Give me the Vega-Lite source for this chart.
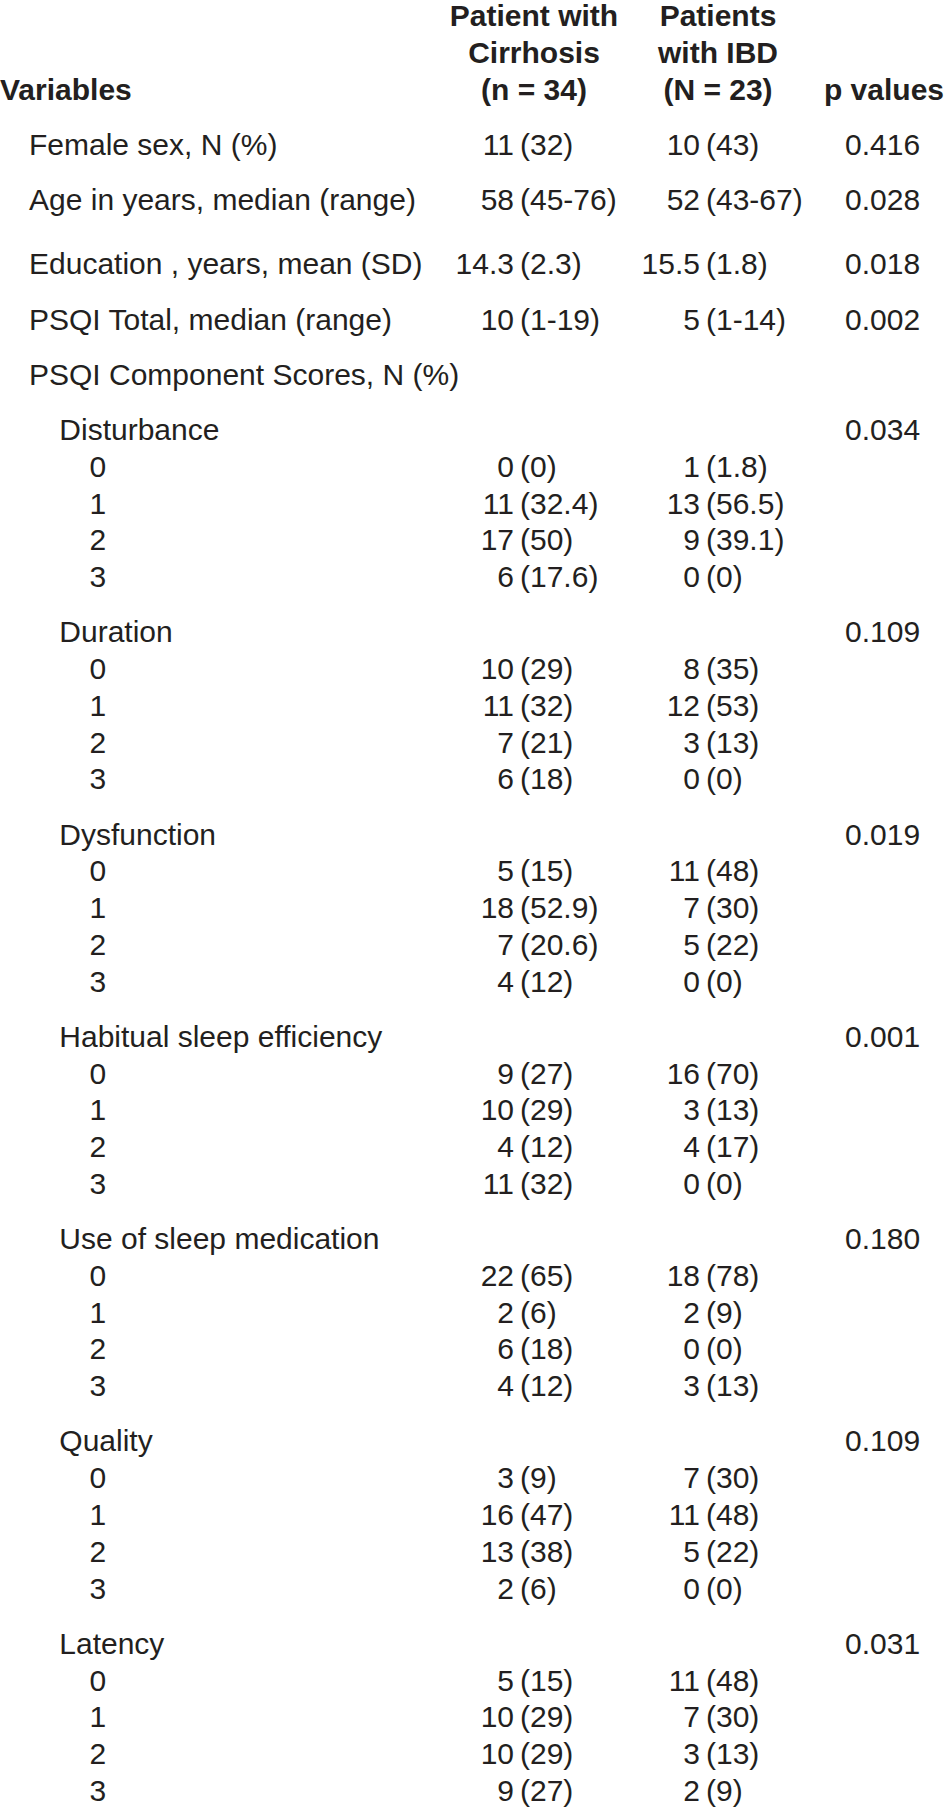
{
  "$schema": "https://vega.github.io/schema/vega-lite/v6.json",
  "width": 945,
  "height": 1814,
  "autosize": {"type": "fit", "contains": "padding"},
  "padding": 0,
  "background": "white",
  "config": {"view": {"stroke": null}, "text": {"font": "Liberation Sans", "fontSize": 30, "color": "#231f20", "baseline": "alphabetic"}},
  "datasets": {
    "head": [
      {"line": 0, "col": "cir", "text": "Patient with"},
      {"line": 4, "col": "cir", "text": "Cirrhosis"},
      {"line": 8, "col": "cir", "text": "(n = 34)"},
      {"line": 0, "col": "ibd", "text": "Patients"},
      {"line": 4, "col": "ibd", "text": "with IBD"},
      {"line": 8, "col": "ibd", "text": "(N = 23)"},
      {"line": 8, "col": "p", "text": "p values"},
      {"line": 8, "col": "var", "text": "Variables"}
    ],
    "rows": [
      {"line": 14, "level": 0, "label": "Female sex, N (%)", "cir_n": "11", "cir_p": "(32)", "ibd_n": "10", "ibd_p": "(43)", "p": "0.416"},
      {"line": 20, "level": 0, "label": "Age in years, median (range)", "cir_n": "58", "cir_p": "(45-76)", "ibd_n": "52", "ibd_p": "(43-67)", "p": "0.028"},
      {"line": 27, "level": 0, "label": "Education , years, mean (SD)", "cir_n": "14.3", "cir_p": "(2.3)", "ibd_n": "15.5", "ibd_p": "(1.8)", "p": "0.018"},
      {"line": 33, "level": 0, "label": "PSQI Total, median (range)", "cir_n": "10", "cir_p": "(1-19)", "ibd_n": "5", "ibd_p": "(1-14)", "p": "0.002"},
      {"line": 39, "level": 0, "label": "PSQI Component Scores, N (%)", "cir_n": "", "cir_p": "", "ibd_n": "", "ibd_p": "", "p": ""},
      {"line": 45, "level": 1, "label": "Disturbance", "cir_n": "", "cir_p": "", "ibd_n": "", "ibd_p": "", "p": "0.034"},
      {"line": 49, "level": 2, "label": "0", "cir_n": "0", "cir_p": "(0)", "ibd_n": "1", "ibd_p": "(1.8)", "p": ""},
      {"line": 53, "level": 2, "label": "1", "cir_n": "11", "cir_p": "(32.4)", "ibd_n": "13", "ibd_p": "(56.5)", "p": ""},
      {"line": 57, "level": 2, "label": "2", "cir_n": "17", "cir_p": "(50)", "ibd_n": "9", "ibd_p": "(39.1)", "p": ""},
      {"line": 61, "level": 2, "label": "3", "cir_n": "6", "cir_p": "(17.6)", "ibd_n": "0", "ibd_p": "(0)", "p": ""},
      {"line": 67, "level": 1, "label": "Duration", "cir_n": "", "cir_p": "", "ibd_n": "", "ibd_p": "", "p": "0.109"},
      {"line": 71, "level": 2, "label": "0", "cir_n": "10", "cir_p": "(29)", "ibd_n": "8", "ibd_p": "(35)", "p": ""},
      {"line": 75, "level": 2, "label": "1", "cir_n": "11", "cir_p": "(32)", "ibd_n": "12", "ibd_p": "(53)", "p": ""},
      {"line": 79, "level": 2, "label": "2", "cir_n": "7", "cir_p": "(21)", "ibd_n": "3", "ibd_p": "(13)", "p": ""},
      {"line": 83, "level": 2, "label": "3", "cir_n": "6", "cir_p": "(18)", "ibd_n": "0", "ibd_p": "(0)", "p": ""},
      {"line": 89, "level": 1, "label": "Dysfunction", "cir_n": "", "cir_p": "", "ibd_n": "", "ibd_p": "", "p": "0.019"},
      {"line": 93, "level": 2, "label": "0", "cir_n": "5", "cir_p": "(15)", "ibd_n": "11", "ibd_p": "(48)", "p": ""},
      {"line": 97, "level": 2, "label": "1", "cir_n": "18", "cir_p": "(52.9)", "ibd_n": "7", "ibd_p": "(30)", "p": ""},
      {"line": 101, "level": 2, "label": "2", "cir_n": "7", "cir_p": "(20.6)", "ibd_n": "5", "ibd_p": "(22)", "p": ""},
      {"line": 105, "level": 2, "label": "3", "cir_n": "4", "cir_p": "(12)", "ibd_n": "0", "ibd_p": "(0)", "p": ""},
      {"line": 111, "level": 1, "label": "Habitual sleep efficiency", "cir_n": "", "cir_p": "", "ibd_n": "", "ibd_p": "", "p": "0.001"},
      {"line": 115, "level": 2, "label": "0", "cir_n": "9", "cir_p": "(27)", "ibd_n": "16", "ibd_p": "(70)", "p": ""},
      {"line": 119, "level": 2, "label": "1", "cir_n": "10", "cir_p": "(29)", "ibd_n": "3", "ibd_p": "(13)", "p": ""},
      {"line": 123, "level": 2, "label": "2", "cir_n": "4", "cir_p": "(12)", "ibd_n": "4", "ibd_p": "(17)", "p": ""},
      {"line": 127, "level": 2, "label": "3", "cir_n": "11", "cir_p": "(32)", "ibd_n": "0", "ibd_p": "(0)", "p": ""},
      {"line": 133, "level": 1, "label": "Use of sleep medication", "cir_n": "", "cir_p": "", "ibd_n": "", "ibd_p": "", "p": "0.180"},
      {"line": 137, "level": 2, "label": "0", "cir_n": "22", "cir_p": "(65)", "ibd_n": "18", "ibd_p": "(78)", "p": ""},
      {"line": 141, "level": 2, "label": "1", "cir_n": "2", "cir_p": "(6)", "ibd_n": "2", "ibd_p": "(9)", "p": ""},
      {"line": 145, "level": 2, "label": "2", "cir_n": "6", "cir_p": "(18)", "ibd_n": "0", "ibd_p": "(0)", "p": ""},
      {"line": 149, "level": 2, "label": "3", "cir_n": "4", "cir_p": "(12)", "ibd_n": "3", "ibd_p": "(13)", "p": ""},
      {"line": 155, "level": 1, "label": "Quality", "cir_n": "", "cir_p": "", "ibd_n": "", "ibd_p": "", "p": "0.109"},
      {"line": 159, "level": 2, "label": "0", "cir_n": "3", "cir_p": "(9)", "ibd_n": "7", "ibd_p": "(30)", "p": ""},
      {"line": 163, "level": 2, "label": "1", "cir_n": "16", "cir_p": "(47)", "ibd_n": "11", "ibd_p": "(48)", "p": ""},
      {"line": 167, "level": 2, "label": "2", "cir_n": "13", "cir_p": "(38)", "ibd_n": "5", "ibd_p": "(22)", "p": ""},
      {"line": 171, "level": 2, "label": "3", "cir_n": "2", "cir_p": "(6)", "ibd_n": "0", "ibd_p": "(0)", "p": ""},
      {"line": 177, "level": 1, "label": "Latency", "cir_n": "", "cir_p": "", "ibd_n": "", "ibd_p": "", "p": "0.031"},
      {"line": 181, "level": 2, "label": "0", "cir_n": "5", "cir_p": "(15)", "ibd_n": "11", "ibd_p": "(48)", "p": ""},
      {"line": 185, "level": 2, "label": "1", "cir_n": "10", "cir_p": "(29)", "ibd_n": "7", "ibd_p": "(30)", "p": ""},
      {"line": 189, "level": 2, "label": "2", "cir_n": "10", "cir_p": "(29)", "ibd_n": "3", "ibd_p": "(13)", "p": ""},
      {"line": 193, "level": 2, "label": "3", "cir_n": "9", "cir_p": "(27)", "ibd_n": "2", "ibd_p": "(9)", "p": ""}
    ]
  },
  "encoding": {
    "y": {"field": "line", "type": "quantitative", "axis": null, "scale": {"domain": [-2.85, 194.43], "reverse": true, "nice": false, "zero": false}}
  },
  "layer": [
    {
      "data": {"name": "head"},
      "transform": [{"filter": "datum.col === 'cir'"}],
      "mark": {"type": "text", "fontWeight": "bold", "align": "center"},
      "encoding": {"x": {"value": 534}, "text": {"field": "text", "type": "nominal"}}
    },
    {
      "data": {"name": "head"},
      "transform": [{"filter": "datum.col === 'ibd'"}],
      "mark": {"type": "text", "fontWeight": "bold", "align": "center"},
      "encoding": {"x": {"value": 718}, "text": {"field": "text", "type": "nominal"}}
    },
    {
      "data": {"name": "head"},
      "transform": [{"filter": "datum.col === 'p'"}],
      "mark": {"type": "text", "fontWeight": "bold", "align": "right"},
      "encoding": {"x": {"value": 944}, "text": {"field": "text", "type": "nominal"}}
    },
    {
      "data": {"name": "head"},
      "transform": [{"filter": "datum.col === 'var'"}],
      "mark": {"type": "text", "fontWeight": "bold", "align": "left"},
      "encoding": {"x": {"value": 0}, "text": {"field": "text", "type": "nominal"}}
    },
    {
      "data": {"name": "rows"},
      "mark": {"type": "text", "align": "left"},
      "encoding": {
        "x": {"field": "level", "type": "quantitative", "axis": null, "scale": {"domain": [0, 2], "range": [29, 89.6], "nice": false, "zero": false}},
        "text": {"field": "label", "type": "nominal"}
      }
    },
    {
      "data": {"name": "rows"},
      "mark": {"type": "text", "align": "right"},
      "encoding": {"x": {"value": 514}, "text": {"field": "cir_n", "type": "nominal"}}
    },
    {
      "data": {"name": "rows"},
      "mark": {"type": "text", "align": "left"},
      "encoding": {"x": {"value": 520}, "text": {"field": "cir_p", "type": "nominal"}}
    },
    {
      "data": {"name": "rows"},
      "mark": {"type": "text", "align": "right"},
      "encoding": {"x": {"value": 700}, "text": {"field": "ibd_n", "type": "nominal"}}
    },
    {
      "data": {"name": "rows"},
      "mark": {"type": "text", "align": "left"},
      "encoding": {"x": {"value": 706}, "text": {"field": "ibd_p", "type": "nominal"}}
    },
    {
      "data": {"name": "rows"},
      "mark": {"type": "text", "align": "left"},
      "encoding": {"x": {"value": 845}, "text": {"field": "p", "type": "nominal"}}
    }
  ]
}
